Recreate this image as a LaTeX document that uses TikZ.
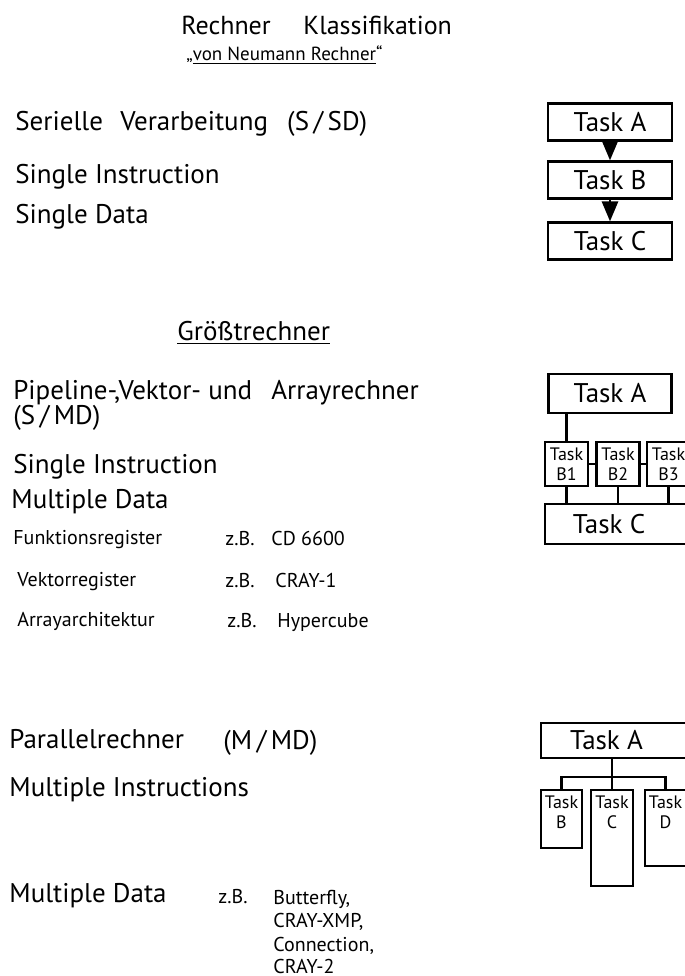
\documentclass[tikz,border=0pt]{standalone}
\usepackage{fontspec}
\setmainfont{PT Sans}
\usetikzlibrary{arrows,positioning}

\begin{document}
\begin{tikzpicture}[x=0.5pt,y=-0.5pt,
		titletext/.style={font=\fontsize{13}{15}\selectfont, anchor=base west, inner sep=0pt},
		subtitle/.style={font=\fontsize{9.5}{11}\selectfont, anchor=base west, inner sep=0pt},
		bigtext/.style={font=\fontsize{13.5}{16}\selectfont, anchor=base west, inner sep=0pt},
		smalltext/.style={font=\fontsize{10}{12}\selectfont, anchor=base west, inner sep=0pt},
		taskbox/.style={draw, line width=1.3pt, font=\fontsize{13.5}{16}\selectfont, minimum width=62pt, minimum height=18.5pt, inner sep=1pt},
		subbox/.style={draw, line width=1.3pt, inner sep=0pt},
		subtask/.style={font=\fontsize{9}{10}\selectfont, align=center, inner sep=0pt},
		link/.style={line width=1.3pt}]
			\useasboundingbox (0,0) rectangle (685,976);
			\node[titletext] (rechner) at (181,34) {Rechner};
			\node[titletext] (klass) at (303,34) {Klassifikation};
			\node[subtitle] (neumann) at (186,60) {„\underline{von Neumann Rechner}“};

			\node[bigtext] (ser) at (15,130) {Serielle\hspace{5pt} Verarbeitung\hspace{6pt} (S\,/\,SD)};
			\node[bigtext] (si1) at (15,183) {Single Instruction};
			\node[bigtext] (sd1) at (15,223) {Single Data};
			\node[taskbox] (a1) at (610,122) {Task A};
			\node[taskbox] (b1) at (610,180) {Task B};
			\node[taskbox] (c1) at (610,241) {Task C};
			\draw[link,-triangle 45] (a1) -- (b1);
			\draw[link,-triangle 45] (b1) -- (c1);

			\node[bigtext] (gross) at (177,340) {\underline{Größtrechner}};
			\node[bigtext] (pipe) at (13,399) {Pipeline-,Vektor- und \hspace{6pt}Arrayrechner};
			\node[bigtext] (smd) at (13,424) {(S\,/\,MD)};
			\node[bigtext] (si2) at (13,473) {Single Instruction};
			\node[bigtext] (md2) at (11,508) {Multiple Data};
			\node[smalltext] (funk) at (13,544) {Funktionsregister};
			\node[smalltext] (zb1) at (225,545) {z.B.};
			\node[smalltext] (cd) at (271,545) {CD 6600};
			\node[smalltext] (vek) at (17,586) {Vektorregister};
			\node[smalltext] (zb2) at (225,587) {z.B.};
			\node[smalltext] (cray1) at (275,587) {CRAY-1};
			\node[smalltext] (arr) at (17,626) {Arrayarchitektur};
			\node[smalltext] (zb3) at (227,627) {z.B.};
			\node[smalltext] (hyper) at (277,627) {Hypercube};

			\node[taskbox, minimum width=61.5pt, minimum height=19.5pt] (a2) at (610,393.5) {Task A};
			\node[subbox, minimum width=21.5pt, minimum height=22pt] (b21) at (566.5,464) {};
			\node[subbox, minimum width=21.5pt, minimum height=22pt] (b22) at (618,464) {};
			\node[subbox, minimum width=21.5pt, minimum height=22pt] (b23) at (668.5,464) {};
			\node[subtask] (b21t) at (b21) {Task\\B1};
			\node[subtask] (b22t) at (b22) {Task\\B2};
			\node[subtask] (b23t) at (b23) {Task\\B3};
			\node[taskbox, minimum width=75pt, minimum height=20pt] (c2) at (620,524) {Task C\hspace*{11pt}};
			\draw[link] (b21.north) -- (b21.north |- a2.south);
			\draw[link] (b21.east) -- (b22.west);
			\draw[link] (b22.east) -- (b23.west);
			\draw[link] (b21.south) -- (b21.south |- c2.north);
			\draw[link] (b22.south) -- (b22.south |- c2.north);
			\draw[link] (b23.south) -- (b23.south |- c2.north);

			\node[bigtext] (par) at (9,748) {Parallelrechner};
			\node[bigtext] (mmd) at (223,749) {(M\,/\,MD)};
			\node[bigtext] (mi) at (9,796) {Multiple Instructions};
			\node[bigtext] (md3) at (9,902) {Multiple Data};
			\node[smalltext] (zb4) at (218,903) {z.B.};
			\node[smalltext] (butter) at (273,904) {Butterfly,};
			\node[smalltext] (xmp) at (273,927) {CRAY-XMP,};
			\node[smalltext] (conn) at (273,951) {Connection,};
			\node[smalltext] (cray2) at (273,973) {CRAY-2};

			\node[taskbox, minimum width=79.5pt, minimum height=17.5pt] (a3) at (620.5,740.5) {Task A\hspace*{14pt}};
			\node[subbox, minimum width=20.5pt, minimum height=29pt] (b3) at (561.5,819) {};
			\node[subbox, minimum width=21pt, minimum height=48pt] (c3) at (612,838) {};
			\node[subbox, minimum width=20.5pt, minimum height=38pt] (d3) at (665.5,828) {};
			\node[subtask, below=3.5pt of b3.north] (b3t) {Task\\B};
			\node[subtask, below=3.5pt of c3.north] (c3t) {Task\\C};
			\node[subtask, below=3.5pt of d3.north] (d3t) {Task\\D};
			\coordinate (j3) at (612,777);
			\draw[link] (a3.south -| c3.north) -- (c3.north);
			\draw[link] (b3.north) |- (j3) -| (d3.north);
		\end{tikzpicture}
\end{document}
